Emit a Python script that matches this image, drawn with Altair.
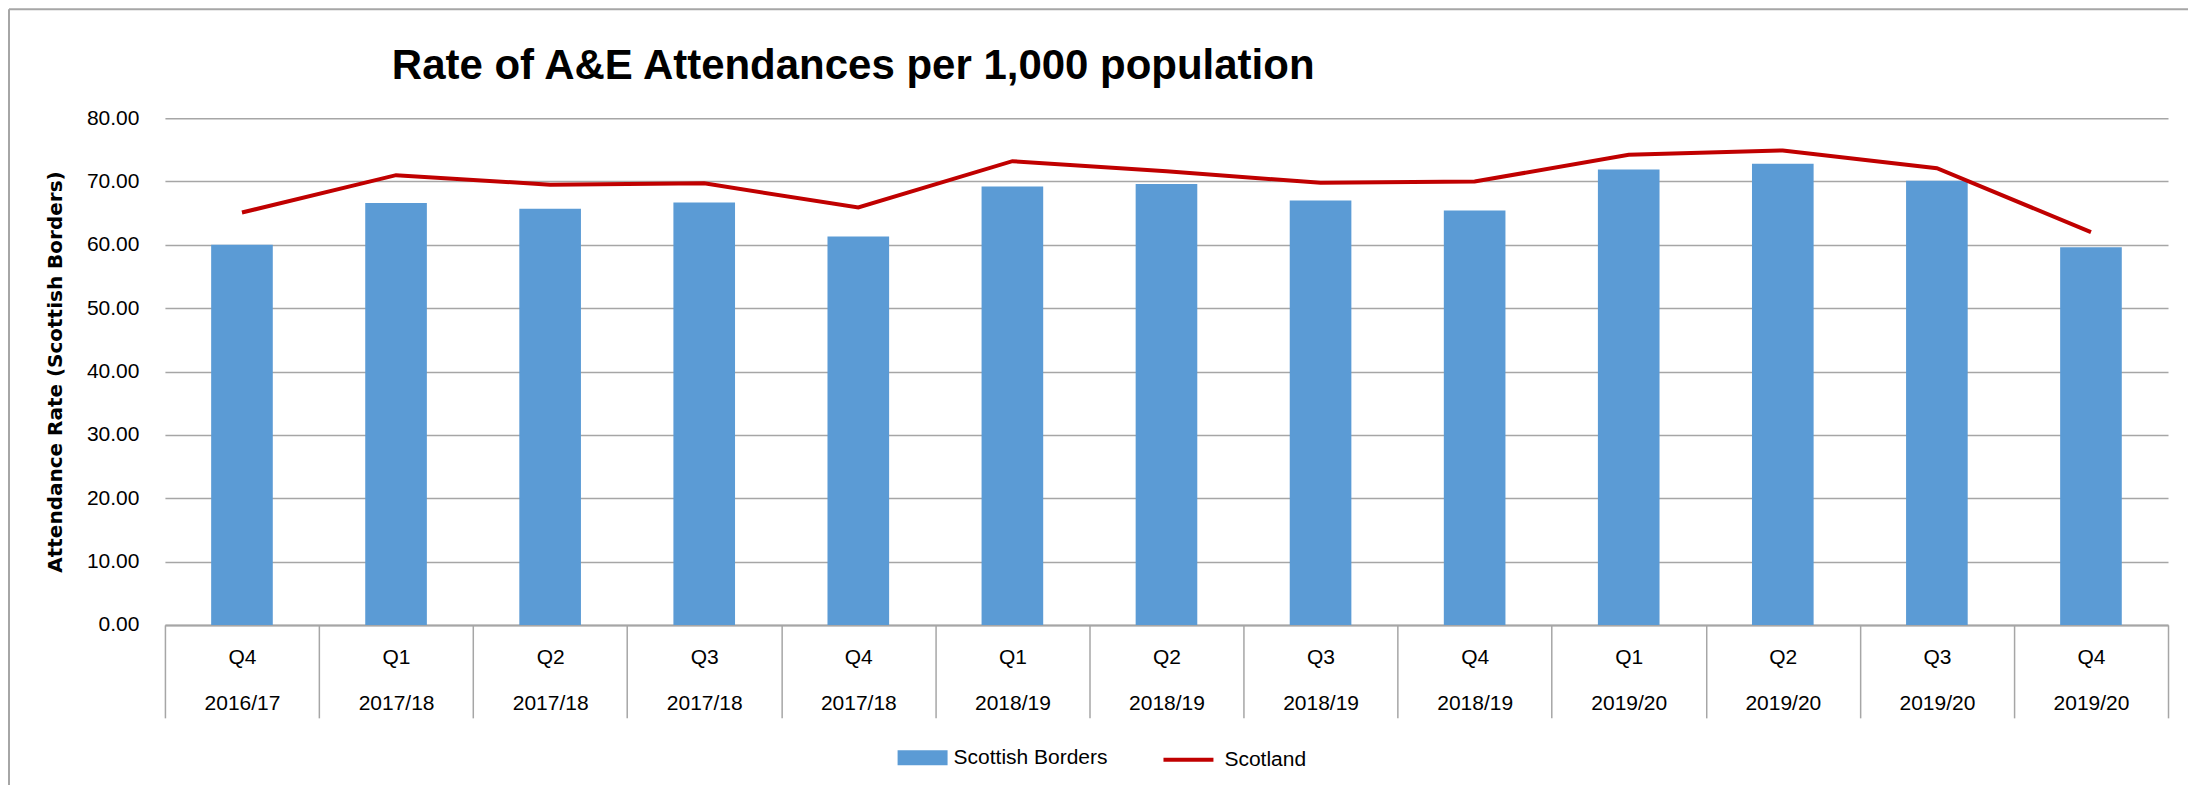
import altair as alt
import pandas as pd

quarters = ["Q4", "Q1", "Q2", "Q3", "Q4", "Q1", "Q2", "Q3", "Q4", "Q1", "Q2", "Q3", "Q4"]
years = ["2016/17", "2017/18", "2017/18", "2017/18", "2017/18", "2018/19", "2018/19",
         "2018/19", "2018/19", "2019/20", "2019/20", "2019/20", "2019/20"]
borders = [60.0, 66.6, 65.7, 66.7, 61.3, 69.2, 69.6, 67.0, 65.4, 71.9, 72.8, 70.1, 59.6]
scotland = [65.1, 71.0, 69.5, 69.7, 65.9, 73.2, 71.6, 69.8, 70.0, 74.2, 74.9, 72.1, 62.0]
y_ticks = [0, 10, 20, 30, 40, 50, 60, 70, 80]
title_text = "Rate of A&E Attendances per 1,000 population"

periods = [f"{q}|{y}" for q, y in zip(quarters, years)]
df = pd.DataFrame({"period": periods, "borders": borders, "scotland": scotland})

GRID = "#a6a6a6"
FONT = "Liberation Sans"

x_axis = alt.Axis(
    labelExpr="split(datum.label, '|')", labelAngle=0, tickBand="extent",
    tickSize=93, tickColor=GRID, tickWidth=1.5, domainColor=GRID, domainWidth=2,
    labelFont=FONT, labelFontSize=21, labelColor="black", labelLineHeight=46,
    labelBaseline="top", labelPadding=-71, title=None,
)
x_scale = alt.Scale(paddingInner=0, paddingOuter=0)

y_axis = alt.Axis(values=y_ticks, format=".2f", grid=True, gridColor=GRID,
                  gridWidth=1.5, domain=False, ticks=False, labelPadding=26,
                  labelFont=FONT, labelFontSize=21, labelColor="black",
                  title="Attendance Rate (Scottish Borders)",
                  titleX=-109, titleY=253.5, titleAngle=-90,
                  titleFont="DejaVu Sans", titleFontSize=20, titleFontWeight="bold",
                  titleAlign="center", titleBaseline="middle", titleColor="black")
y_scale = alt.Scale(domain=[0, 80])

base = alt.Chart(df)

bars = base.mark_bar(color="#5b9bd5", width=alt.RelativeBandSize(0.4)).transform_calculate(
    s="'Scottish Borders'"
).encode(
    x=alt.X("period:N", sort=periods, scale=x_scale, axis=x_axis),
    y=alt.Y("borders:Q", scale=y_scale, axis=y_axis),
    color=alt.Color("s:N", scale=alt.Scale(domain=["Scottish Borders"], range=["#5b9bd5"]),
                    legend=alt.Legend(orient="none", legendX=733, legendY=615, title=None,
                                      symbolType="M-1,-0.3H1V0.3H-1Z", symbolSize=2500,
                                      symbolStrokeWidth=0, labelFont=FONT, labelFontSize=21,
                                      labelColor="black", labelOffset=6, padding=0)),
)

line = base.mark_line(strokeWidth=4).transform_calculate(
    s2="'Scotland'"
).encode(
    x=alt.X("period:N", sort=periods, scale=x_scale, axis=x_axis, bandPosition=0.5),
    y=alt.Y("scotland:Q", scale=y_scale, axis=y_axis),
    stroke=alt.Stroke("s2:N", scale=alt.Scale(domain=["Scotland"], range=["#c00000"]),
                      legend=alt.Legend(orient="none", legendX=997, legendY=615, title=None,
                                        symbolType="stroke", symbolSize=2500,
                                        symbolStrokeWidth=4, labelFont=FONT, labelFontSize=21,
                                        labelColor="black", labelOffset=9, padding=0)),
)

one = pd.DataFrame({"t": [title_text]})

title = alt.Chart(one).mark_text(
    align="left", baseline="alphabetic", font=FONT, fontSize=42, fontWeight="bold",
    color="black"
).encode(text="t:N", x=alt.value(227), y=alt.value(-38.7))

border_top = alt.Chart(one).mark_rule(color=GRID, strokeWidth=2).encode(
    x=alt.value(-156), x2=alt.value(2030), y=alt.value(-109)
)
border_left = alt.Chart(one).mark_rule(color=GRID, strokeWidth=2).encode(
    x=alt.value(-156), y=alt.value(-109), y2=alt.value(680)
)

chart = alt.layer(bars, line, title, border_top, border_left).resolve_scale(
    y="shared"
).properties(
    width=2004, height=507,
    autosize=alt.AutoSizeParams(type="none"),
    padding={"left": 157, "top": 110, "right": 20, "bottom": 160},
    background="white",
).configure_view(strokeWidth=0)

chart.save("out.html", embed_options={"renderer": "svg", "actions": False})
